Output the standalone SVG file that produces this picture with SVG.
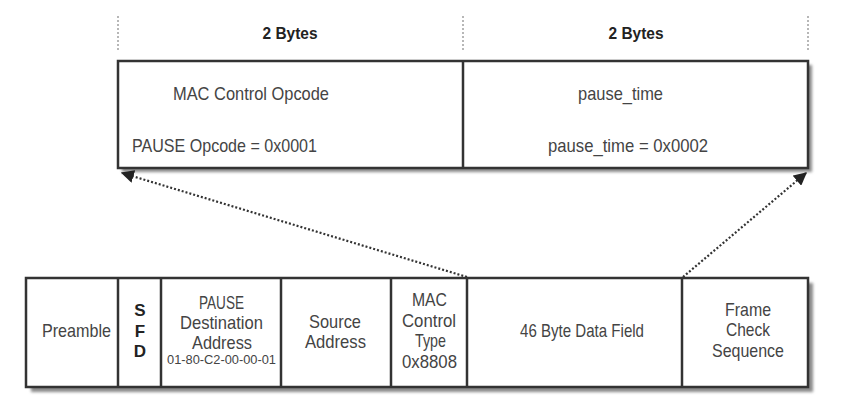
<svg xmlns="http://www.w3.org/2000/svg" width="848" height="411" viewBox="0 0 848 411">
<style>
.box{fill:#fff;stroke:#333;stroke-width:2.5}
.div{stroke:#333;stroke-width:2.5}
.shadow{fill:#8a8a8a}
.t{font-family:"Liberation Sans",Arial,sans-serif;font-size:19px;fill:#444;text-anchor:middle}
.s{font-family:"Liberation Sans",Arial,sans-serif;font-size:12.5px;fill:#444;text-anchor:middle}
.b{font-family:"Liberation Sans",Arial,sans-serif;font-size:17px;font-weight:bold;fill:#222;text-anchor:middle}
.guide{stroke:#888;stroke-width:1.2;stroke-dasharray:2,2}
.conn{stroke:#333;stroke-width:2.2;stroke-dasharray:2,2;fill:none}
</style>
<defs>
<filter id="blur" x="-5%" y="-20%" width="110%" height="140%"><feGaussianBlur stdDeviation="1.6"/></filter>
<marker id="ah" viewBox="0 0 10 10" refX="9" refY="5" markerWidth="6" markerHeight="6" orient="auto" markerUnits="strokeWidth"><path d="M0,0 L10,5 L0,10 z" fill="#222"/></marker>
</defs>
<rect width="848" height="411" fill="#fff"/>

<g id="byte-guides">
<line class="guide" x1="118" y1="16" x2="118" y2="50"/>
<line class="guide" x1="463" y1="16" x2="463" y2="50"/>
<line class="guide" x1="808" y1="16" x2="808" y2="50"/>
<text class="b" x="290" y="39" textLength="55" lengthAdjust="spacingAndGlyphs">2 Bytes</text>
<text class="b" x="636" y="39" textLength="55" lengthAdjust="spacingAndGlyphs">2 Bytes</text>
</g>

<g id="pause-frame">
<rect class="shadow" x="122" y="65" width="690" height="107" filter="url(#blur)"/>
<rect class="box" x="118" y="61" width="690" height="107"/>
<g id="opcode">
<line class="div" x1="463" y1="61" x2="463" y2="168"/>
<text class="t" x="251" y="100" textLength="156" lengthAdjust="spacingAndGlyphs">MAC Control Opcode</text>
<text class="t" x="224.5" y="152" textLength="185" lengthAdjust="spacingAndGlyphs">PAUSE Opcode = 0x0001</text>
</g>
<g id="pause-time">
<text class="t" x="620.5" y="100" textLength="85" lengthAdjust="spacingAndGlyphs">pause_time</text>
<text class="t" x="628" y="152" textLength="160" lengthAdjust="spacingAndGlyphs">pause_time = 0x0002</text>
</g>
</g>

<g id="ethernet-frame">
<rect class="shadow" x="31" y="283" width="782" height="109" filter="url(#blur)"/>
<rect class="box" x="26" y="278" width="782" height="109"/>
<g id="preamble">
<text class="t" x="76.5" y="337" textLength="69" lengthAdjust="spacingAndGlyphs">Preamble</text>
</g>
<g id="sfd">
<line class="div" x1="118" y1="278" x2="118" y2="387"/>
<text class="b" x="140" y="316">S</text>
<text class="b" x="140" y="337">F</text>
<text class="b" x="140" y="357">D</text>
</g>
<g id="dest">
<line class="div" x1="161" y1="278" x2="161" y2="387"/>
<text class="t" x="221.5" y="309" textLength="45" lengthAdjust="spacingAndGlyphs">PAUSE</text>
<text class="t" x="221.5" y="329" textLength="83" lengthAdjust="spacingAndGlyphs">Destination</text>
<text class="t" x="222" y="349" textLength="60" lengthAdjust="spacingAndGlyphs">Address</text>
<text class="s" x="221.5" y="364" textLength="109" lengthAdjust="spacingAndGlyphs">01-80-C2-00-00-01</text>
</g>
<g id="source">
<line class="div" x1="281" y1="278" x2="281" y2="387"/>
<text class="t" x="335" y="328" textLength="52" lengthAdjust="spacingAndGlyphs">Source</text>
<text class="t" x="335.5" y="348" textLength="61" lengthAdjust="spacingAndGlyphs">Address</text>
</g>
<g id="mac-type">
<line class="div" x1="391" y1="278" x2="391" y2="387"/>
<text class="t" x="429.5" y="306" textLength="35" lengthAdjust="spacingAndGlyphs">MAC</text>
<text class="t" x="429" y="327" textLength="54" lengthAdjust="spacingAndGlyphs">Control</text>
<text class="t" x="430.5" y="347" textLength="31" lengthAdjust="spacingAndGlyphs">Type</text>
<text class="t" x="429.5" y="368" textLength="55" lengthAdjust="spacingAndGlyphs">0x8808</text>
</g>
<g id="data">
<line class="div" x1="467" y1="278" x2="467" y2="387"/>
<text class="t" x="582" y="337" textLength="124" lengthAdjust="spacingAndGlyphs">46 Byte Data Field</text>
</g>
<g id="fcs">
<line class="div" x1="682" y1="278" x2="682" y2="387"/>
<text class="t" x="748" y="316" textLength="46" lengthAdjust="spacingAndGlyphs">Frame</text>
<text class="t" x="748" y="336" textLength="44" lengthAdjust="spacingAndGlyphs">Check</text>
<text class="t" x="748" y="357" textLength="72" lengthAdjust="spacingAndGlyphs">Sequence</text>
</g>
</g>

<g id="connectors">
<line class="conn" x1="467" y1="277" x2="122" y2="173" marker-end="url(#ah)"/>
<line class="conn" x1="683" y1="277" x2="806" y2="173" marker-end="url(#ah)"/>
</g>
</svg>
